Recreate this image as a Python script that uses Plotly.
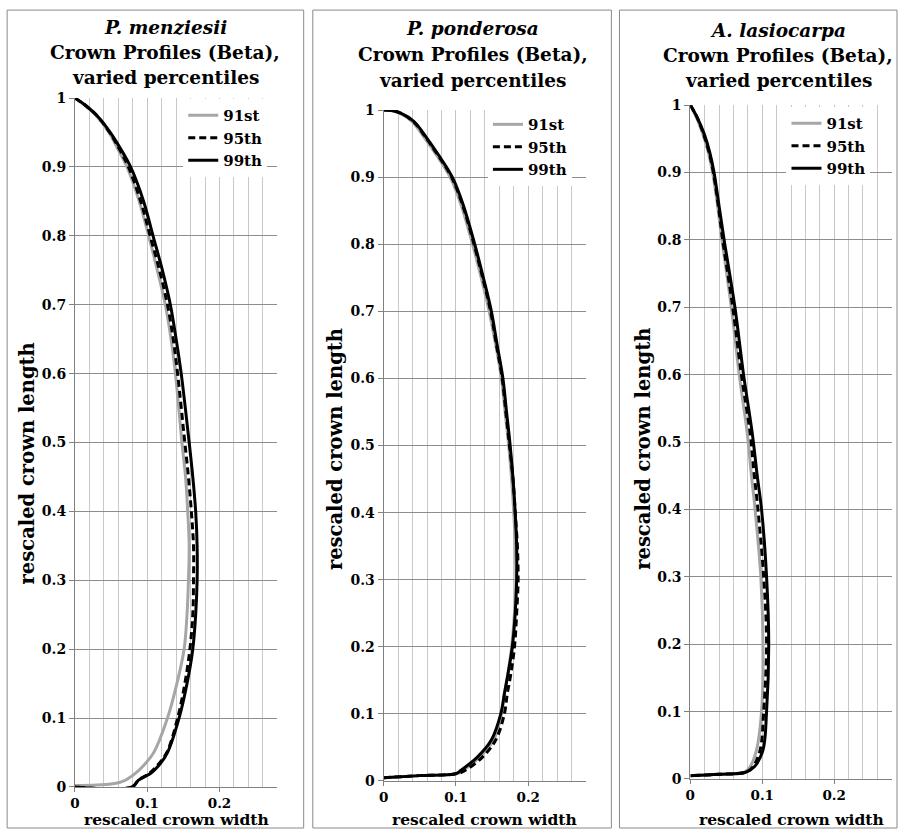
import plotly.graph_objects as go

# ---------------- data ----------------
series_names = ["91st", "95th", "99th"]
species = ["P. menziesii", "P. ponderosa", "A. lasiocarpa"]

# P. menziesii
pm_y = [1, 0.99, 0.975, 0.95, 0.925, 0.9, 0.85, 0.8, 0.75, 0.7, 0.65, 0.6, 0.5, 0.45, 0.4, 0.35, 0.3, 0.25, 0.2, 0.15, 0.1, 0.05, 0.03, 0.02, 0.01]
pm_91_x = [0, 0.013, 0.029, 0.047, 0.060, 0.072, 0.089, 0.102, 0.114, 0.125, 0.133, 0.139, 0.148, 0.153, 0.156, 0.158, 0.157, 0.155, 0.151, 0.141, 0.128, 0.109, 0.094, 0.084, 0.070]
pm_91_tail_x = [0.055, 0.030, 0]
pm_91_tail_y = [0.005, 0.003, 0.002]
pm_95_x = [0, 0.014, 0.030, 0.048, 0.062, 0.074, 0.091, 0.104, 0.117, 0.128, 0.136, 0.142, 0.152, 0.157, 0.161, 0.164, 0.164, 0.163, 0.159, 0.152, 0.142, 0.127, 0.113, 0.103, 0.088]
pm_99_x = [0, 0.014, 0.030, 0.049, 0.064, 0.077, 0.095, 0.108, 0.121, 0.132, 0.140, 0.147, 0.158, 0.163, 0.167, 0.169, 0.169, 0.167, 0.163, 0.155, 0.144, 0.128, 0.115, 0.105, 0.088]
pm_dark_tail_x = [0.079, 0]
pm_dark_tail_y = [0.0, 0]

# P. ponderosa
pp_y = [1, 0.9995, 0.996, 0.983, 0.958, 0.933, 0.9, 0.859, 0.8, 0.75, 0.7, 0.65, 0.6, 0.55, 0.5, 0.45, 0.4, 0.35, 0.3, 0.25, 0.2, 0.16, 0.13, 0.1, 0.061, 0.036, 0.016, 0.011, 0.008, 0.005]
pp_91_x = [0, 0.010, 0.021, 0.039, 0.057, 0.073, 0.092, 0.107, 0.123, 0.135, 0.146, 0.155, 0.163, 0.168, 0.173, 0.177, 0.180, 0.182, 0.183, 0.181, 0.177, 0.172, 0.167, 0.163, 0.152, 0.133, 0.110, 0.101, 0.05, 0]
pp_95_x = [0, 0.011, 0.022, 0.041, 0.059, 0.075, 0.094, 0.109, 0.125, 0.137, 0.148, 0.156, 0.164, 0.169, 0.174, 0.179, 0.182, 0.185, 0.186, 0.184, 0.181, 0.176, 0.171, 0.167, 0.155, 0.137, 0.113, 0.102, 0.05, 0]
pp_99_x = [0, 0.011, 0.023, 0.042, 0.060, 0.076, 0.095, 0.110, 0.126, 0.138, 0.149, 0.157, 0.165, 0.170, 0.175, 0.179, 0.182, 0.184, 0.184, 0.182, 0.178, 0.172, 0.167, 0.162, 0.149, 0.130, 0.107, 0.100, 0.05, 0]

# A. lasiocarpa
al_y = [1, 0.983, 0.958, 0.93, 0.9, 0.85, 0.8, 0.7, 0.6, 0.514, 0.45, 0.4, 0.3, 0.2, 0.1, 0.043, 0.018, 0.01, 0.007, 0.005]
al_91_x = [0, 0.008, 0.017, 0.025, 0.031, 0.038, 0.044, 0.057, 0.068, 0.079, 0.085, 0.090, 0.098, 0.101, 0.099, 0.092, 0.083, 0.075, 0.040, 0]
al_95_x = [0, 0.009, 0.018, 0.026, 0.032, 0.039, 0.045, 0.059, 0.071, 0.083, 0.089, 0.094, 0.102, 0.106, 0.102, 0.097, 0.087, 0.077, 0.040, 0]
al_99_x = [0, 0.009, 0.019, 0.027, 0.033, 0.040, 0.047, 0.062, 0.074, 0.086, 0.093, 0.099, 0.106, 0.109, 0.106, 0.101, 0.089, 0.077, 0.040, 0]

y_tick_vals = [0, 0.1, 0.2, 0.3, 0.4, 0.5, 0.6, 0.7, 0.8, 0.9, 1]
y_tick_text = ["0", "0.1", "0.2", "0.3", "0.4", "0.5", "0.6", "0.7", "0.8", "0.9", "1"]
x_tick_vals = [0, 0.1, 0.2]
x_tick_text = ["0", "0.1", "0.2"]

x_title = "rescaled crown width"
y_title = "rescaled crown length"
subtitle_lines = ["Crown Profiles (Beta),", "varied percentiles"]

# ---------------- layout ----------------
W, H = 898, 836
FONT = "DejaVu Serif"
# the photographed page places the figure at a small offset and scale;
# target positions (in reference pixels) are mapped back to figure space
OX, OY, SX, SY = 7.9, 7.9, 0.9825, 0.981


def fx(px):
    p = (px - OX) / SX
    return min(max(p, 0), W - 1) / W


def fy(py):
    p = (py - OY) / SY
    return 1 - min(max(p, 0), H) / H


panels = [
    dict(data=[(pm_91_x + pm_91_tail_x, pm_y + pm_91_tail_y),
               (pm_95_x + pm_dark_tail_x, pm_y + pm_dark_tail_y),
               (pm_99_x + pm_dark_tail_x, pm_y + pm_dark_tail_y)],
         px=(77, 277), py=(98, 787), box=(10, 303), title_x=166, title_y=(27, 52, 77),
         ytitle=(30, 463), leg=(267, 99)),
    dict(data=[(pp_91_x, pp_y), (pp_95_x, pp_y), (pp_99_x, pp_y)],
         px=(382, 582), py=(110, 781), box=(312, 607), title_x=470, title_y=(28, 54, 80),
         ytitle=(334, 449), leg=(568, 108)),
    dict(data=[(al_91_x, al_y), (al_95_x, al_y), (al_99_x, al_y)],
         px=(685, 884), py=(105, 779), box=(615, 895), title_x=772, title_y=(30, 55, 80),
         ytitle=(638, 449), leg=(863, 107)),
]

styles = [
    dict(color="#a6a6a6", width=3, dash="solid", shape="spline", smoothing=1.0),
    dict(color="#000000", width=3, dash="7px,4px", shape="spline", smoothing=1.0),
    dict(color="#000000", width=3, dash="solid", shape="spline", smoothing=1.0),
]

fig = go.Figure()
shapes = []
annotations = []
layout = dict(width=W, height=H, margin=dict(l=0, r=0, t=0, b=0),
              paper_bgcolor="white", plot_bgcolor="white",
              font=dict(family=FONT, color="#000000"))

for i, p in enumerate(panels):
    k = "" if i == 0 else str(i + 1)
    xa, ya, lg = "x" + k, "y" + k, "legend" + k
    for j, (xs, ys) in enumerate(p["data"]):
        fig.add_trace(go.Scatter(x=xs, y=ys, mode="lines", name=series_names[j],
                                 line=styles[j], xaxis=xa, yaxis=ya, legend=lg,
                                 showlegend=True))
    x0p, x1p = p["px"]
    y0p, y1p = p["py"]
    layout["xaxis" + k] = dict(
        domain=[fx(x0p), fx(x1p)], range=[0, 0.28], anchor=ya,
        tickvals=x_tick_vals, ticktext=x_tick_text,
        showgrid=True, gridcolor="#c4c4c4", gridwidth=1,
        minor=dict(dtick=0.02, showgrid=True, gridcolor="#c8c8c8", gridwidth=1, tick0=0),
        showline=True, linecolor="#808080", linewidth=1,
        ticks="outside", ticklen=4, tickcolor="#808080",
        tickfont=dict(family=FONT, size=13.5, weight="bold", color="#000"),
        zeroline=False, fixedrange=True)
    layout["yaxis" + k] = dict(
        domain=[fy(y1p), fy(y0p)], range=[0, 1], anchor=xa,
        tickvals=y_tick_vals, ticktext=y_tick_text,
        showgrid=True, gridcolor="#8c8c8c", gridwidth=1,
        showline=True, linecolor="#808080", linewidth=1,
        ticks="outside", ticklen=5, tickcolor="#808080",
        tickfont=dict(family=FONT, size=14, weight="bold", color="#000"),
        zeroline=False, fixedrange=True)
    lx, ly = p["leg"]
    layout[lg] = dict(
        x=fx(lx), y=fy(ly), xanchor="right", yanchor="top",
        bgcolor="white", borderwidth=0, tracegroupgap=0,
        font=dict(family=FONT, size=15, weight="bold", color="#000"),
        itemwidth=30)
    bx0, bx1 = p["box"]
    shapes.append(dict(type="rect", xref="paper", yref="paper",
                       x0=fx(bx0), x1=fx(bx1), y0=0, y1=fy(10),
                       line=dict(color="#8a8a8a", width=1), layer="below"))
    lines = ["<i>" + species[i] + "</i>"] + subtitle_lines
    for line_text, ty_line in zip(lines, p["title_y"]):
        annotations.append(dict(
            text=line_text, x=fx(p["title_x"]), y=fy(ty_line), xref="paper", yref="paper",
            xanchor="center", yanchor="middle", showarrow=False, align="center",
            font=dict(family=FONT, size=18.5, weight="bold", color="#000")))
    annotations.append(dict(
        text=x_title, x=fx((x0p + x1p) / 2), y=0, xref="paper", yref="paper",
        xanchor="center", yanchor="bottom", yshift=-3, showarrow=False,
        font=dict(family=FONT, size=15.5, weight="bold", color="#000")))
    tx, ty = p["ytitle"]
    annotations.append(dict(
        text=y_title, x=fx(tx), y=fy(ty), xref="paper", yref="paper",
        xanchor="center", yanchor="middle", showarrow=False, textangle=-90,
        font=dict(family=FONT, size=19.5, weight="bold", color="#000")))

layout["shapes"] = shapes
layout["annotations"] = annotations
fig.update_layout(**layout)
fig.write_html("out.html", config={"displayModeBar": False},
               post_script="document.body.style.margin='0';document.body.style.overflow='hidden';")
